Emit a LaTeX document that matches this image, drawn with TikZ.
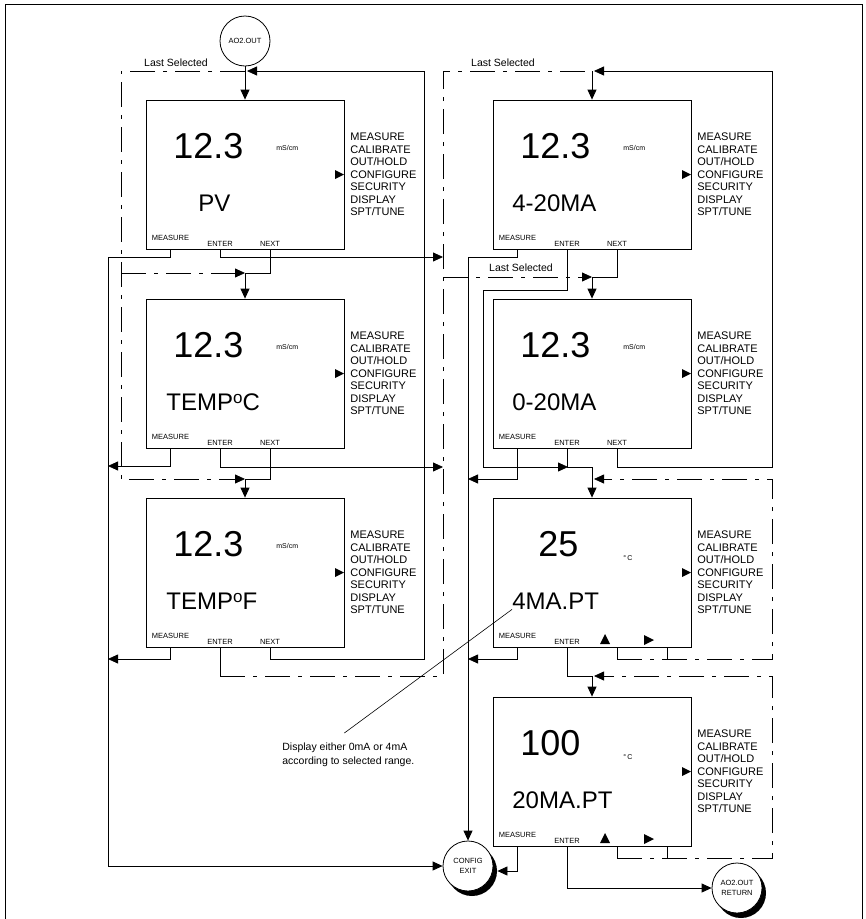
\documentclass[tikz,border=0pt]{standalone}
\usepackage{fontspec}
\setmainfont{Liberation Sans}
\usetikzlibrary{arrows.meta, calc}

\tikzset{
  screen/.style={draw, minimum width=198pt, minimum height=149pt, inner sep=0pt},
  bigval/.style={anchor=base west, inner sep=0pt, font=\fontsize{36}{36}\selectfont},
  lowval/.style={anchor=base west, inner sep=0pt, font=\fontsize{24}{24}\selectfont},
  unit/.style={anchor=west, inner sep=0pt, font=\fontsize{7}{7}\selectfont},
  menu/.style={anchor=west, inner sep=0pt, align=left, font=\fontsize{11}{12.5}\selectfont},
  key/.style={inner sep=0pt, font=\fontsize{7.5}{7.5}\selectfont},
  term/.style={circle, draw, fill=white, minimum size=50pt, inner sep=0pt, align=center, font=\fontsize{7.5}{9.5}\selectfont},
  shade/.style={circle, fill=black, minimum size=50pt, inner sep=0pt},
  lastsel/.style={dash pattern=on 25pt off 8pt on 4pt off 8pt},
  lbl/.style={inner sep=0pt, font=\fontsize{10.5}{14}\selectfont},
}

% one display screen: name, top-left, value, value x, unit, unit y, label, label x, keys
\newcommand{\screen}[9]{%
  \begin{scope}[shift={(#2)}]
    \node[screen] (#1) at (99,74.5) {};
    \node[bigval] (#1val) at (#4,58.5) {#3};
    \node[unit] (#1unit) at (130,#6) {#5};
    \node[lowval] (#1txt) at (#8,111) {#7};
    \node[menu] (#1menu) at (204,74.5) {MEASURE\\CALIBRATE\\OUT/HOLD\\CONFIGURE\\SECURITY\\DISPLAY\\SPT/TUNE};
    \fill (189,70) -- (198,74.5) -- (189,79) -- cycle;
    \node[key] (#1km) at (24.5,138) {MEASURE};
    \node[key] (#1ke) at (74,144) {ENTER};
    \coordinate (#1-m) at (24,149);
    \coordinate (#1-e) at (74,149);
    #9
  \end{scope}}
\newcommand{\nextkey}[1]{%
  \node[key] (#1kn) at (124,144) {NEXT};
  \coordinate (#1-n) at (124,149);}
\newcommand{\editkeys}[1]{%
  \fill (107,146) -- (112,136) -- (117,146) -- cycle;
  \fill (151,137) -- (161,142) -- (151,147) -- cycle;
  \coordinate (#1-u) at (124,149);
  \coordinate (#1-r) at (174,149);}
\newcommand{\tempdeg}[1]{TEMP\raisebox{7pt}{\fontsize{17}{17}\selectfont o}#1}

\begin{document}
\begin{tikzpicture}[x=1pt, y=-1pt, >={Triangle[length=10pt,width=9pt]}, line width=0.8pt]
  \useasboundingbox (0,0) rectangle (866,919);
  \draw (5,919) -- (5,4) -- (862,4) -- (862,919);

  % left column
  \screen{pv}{146,100}{12.3}{27}{mS/cm}{48}{PV}{52}{\nextkey{pv}}
  \screen{tc}{146,299}{12.3}{27}{mS/cm}{48}{\tempdeg{C}}{20}{\nextkey{tc}}
  \screen{tf}{146,498}{12.3}{27}{mS/cm}{48}{\tempdeg{F}}{20}{\nextkey{tf}}
  % right column
  \screen{mafour}{493,100}{12.3}{27}{mS/cm}{48}{4-20MA}{19}{\nextkey{mafour}}
  \screen{mazero}{493,299}{12.3}{27}{mS/cm}{48}{0-20MA}{19}{\nextkey{mazero}}
  \screen{ptlow}{493,498}{25}{45}{°\,C}{60}{4MA.PT}{19}{\editkeys{ptlow}}
  \screen{pthigh}{493,697}{100}{27}{°\,C}{60}{20MA.PT}{19}{\editkeys{pthigh}}

  \node[term] (aoout) at (245,41) {AO2.OUT};
  \node[shade] (cexitsh) at (472,871) {};
  \node[term] (cexit) at (468,866) {CONFIG\\EXIT};
  \node[shade] (aoretsh) at (741,893) {};
  \node[term] (aoret) at (737,888) {AO2.OUT\\RETURN};

  \node[lbl] (lsleft) at (176,63) {Last Selected};
  \node[lbl] (lsright) at (503,63) {Last Selected};
  \node[lbl] (lsmid) at (521,268) {Last Selected};
  \node[lbl, anchor=north west, align=left] (note) at (282,742) {Display either 0mA or 4mA\\according to selected range.};
  \draw[line width=0.6pt] (ptlowtxt.south west) -- ([shift={(-4,-9)}]note.north);

  \coordinate (topl) at (245,71);
  \coordinate (topr) at (592,71);
  \coordinate (jl1) at (245,273);
  \coordinate (jl2) at (245,479);
  \coordinate (jr1) at (592,277);
  \coordinate (jr2) at (592,467);
  \coordinate (jr3) at (592,676);

  % left column flow
  \draw[->] (aoout) -- (pv.north);
  \draw (pv-n) |- (jl1);
  \draw[->] (jl1) -- (tc.north);
  \draw (tc-n) |- (jl2);
  \draw[->] (jl2) -- (tf.north);
  \draw[->] (tf-n) |- (424,659) -- (424,71) -- ([xshift=2pt]topl);
  \draw[lastsel,->] (topl) -- (121,71) -- (121,479) -- (jl2);
  \draw[lastsel,->] (121,273) -- (jl1);
  \draw[->] (pv-m) |- (108,257) |- (cexit.west);
  \draw[->] (tc-m) |- (108,466);
  \draw[->] (tf-m) |- (108,659);
  \draw[->] (pv-e) |- (443,257);
  \draw[->] (tc-e) |- (443,467);
  \draw (tf-e) -- (220,676);
  \draw[lastsel] (220,676) -- (443,676) -- (443,71) -- (topr);
  \draw[lastsel,->] (443,277) -- (jr1);

  % right column flow
  \draw[->] (topr) -- (mafour.north);
  \draw (mafour-n) |- (jr1);
  \draw[->] (jr1) -- (mazero.north);
  \draw[->] (mazero-n) |- (772,467) -- (772,71) -- ([xshift=2pt]topr);
  \draw[->] (mafour-m) |- (468,257) -- (cexit.north);
  \draw[->] (mazero-m) |- (468,479);
  \draw[->] (ptlow-m) |- (468,659);
  \draw[->] (pthigh-m) |- (cexitsh.east);
  \draw[->] (mafour-e) |- (483,290) |- (568,467);
  \draw (mazero-e) |- (jr2);
  \draw[->] (jr2) -- (ptlow.north);
  \draw (ptlow-u) -- ++(0,12);
  \draw (ptlow-r) -- ++(0,12);
  \draw[lastsel,->] (617,659) -- (772,659) -- (772,479) -- (594,479);
  \draw (ptlow-e) |- (jr3);
  \draw[->] (jr3) -- (pthigh.north);
  \draw (pthigh-u) -- ++(0,12);
  \draw (pthigh-r) -- ++(0,12);
  \draw[lastsel,->] (617,858) -- (772,858) -- (772,676) -- ([xshift=2pt]jr3);
  \draw[->] (pthigh-e) |- (aoret.west);
\end{tikzpicture}
\end{document}
